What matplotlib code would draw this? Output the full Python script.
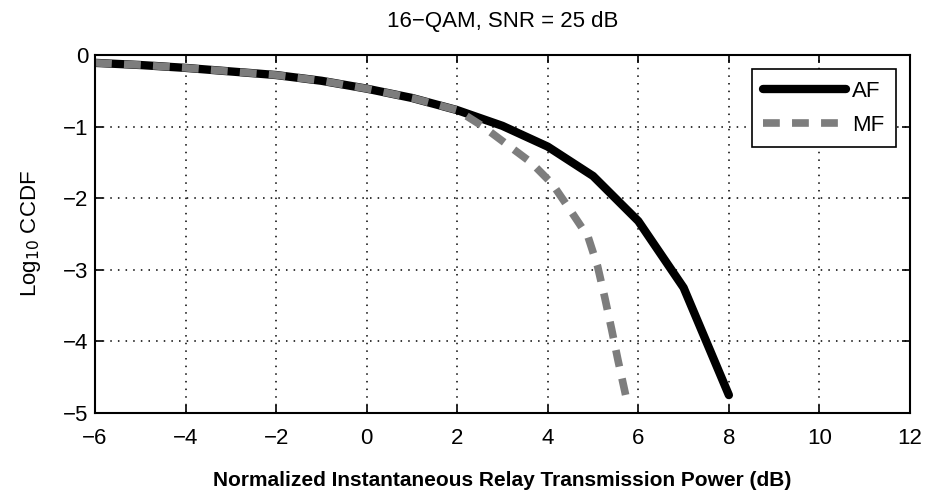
import matplotlib
matplotlib.use("Agg")
import matplotlib.pyplot as plt
from matplotlib import font_manager

fams = [f.name for f in font_manager.fontManager.ttflist]
fam = "Liberation Sans Narrow" if "Liberation Sans Narrow" in fams else "Liberation Sans"
plt.rcParams['font.family'] = [fam, 'DejaVu Sans']

af_x = [-6, -5, -4, -3, -2, -1, 0, 1, 2, 3, 4, 5, 6, 7, 8]
af_y = [-0.11, -0.14, -0.18, -0.23, -0.28, -0.36, -0.47, -0.60, -0.77, -0.99, -1.28, -1.69, -2.32, -3.25, -4.75]
mf_x = [-6, -5, -4, -3, -2, -1, 0, 1, 2, 2.55, 3.1, 3.63, 4.1, 4.5, 4.89, 5.1, 5.26, 5.41, 5.55, 5.72]
mf_y = [-0.11, -0.14, -0.18, -0.23, -0.28, -0.36, -0.47, -0.60, -0.77, -0.99, -1.25, -1.50, -1.80, -2.17, -2.54, -2.95, -3.39, -3.83, -4.26, -4.75]
x_ticks = list(range(-6, 13, 2))
y_ticks = list(range(-5, 1))

fig = plt.figure(figsize=(9.26, 4.95), dpi=100)
ax = fig.add_axes([0.1026, 0.1657, 0.8801, 0.7232])

ax.plot(af_x, af_y, color='black', lw=6, solid_capstyle='round', label='AF')
ax.plot(mf_x, mf_y, color='#7d7d7d', lw=5.5, dashes=(2.2, 1.6), label='MF')

ax.set_xlim(-6, 12)
ax.set_ylim(-5, 0)
ax.set_xticks(x_ticks)
ax.set_yticks(y_ticks)
ax.set_xticklabels(['\u2212' + str(-v) if v < 0 else str(v) for v in x_ticks])
ax.set_yticklabels(['\u2212' + str(-v) if v < 0 else str(v) for v in y_ticks])
ax.tick_params(direction='in', top=True, right=True, labelsize=16, length=6, width=1.2, colors='black')
ax.tick_params(axis='x', pad=11)
ax.tick_params(axis='y', pad=5)
ax.grid(True, color='black', linestyle=(0, (1, 4)), linewidth=1.1)
for s in ax.spines.values():
    s.set_linewidth(1.5)

ax.set_title('16\u2212QAM, SNR = 25 dB', fontsize=16, pad=20)
ax.set_xlabel('Normalized Instantaneous Relay Transmission Power (dB)', fontsize=15, fontweight='bold', labelpad=16)
ax.set_ylabel('Log$_{10}$ CCDF', fontsize=16, labelpad=14)

leg = ax.legend(loc='upper right', fontsize=16, frameon=True, fancybox=False, edgecolor='black',
                handlelength=3.7, borderaxespad=0.65, handletextpad=0.3, labelspacing=0.6,
                borderpad=0.5, framealpha=1)
leg.get_frame().set_linewidth(1.2)

fig.savefig('out.png', dpi=100)
